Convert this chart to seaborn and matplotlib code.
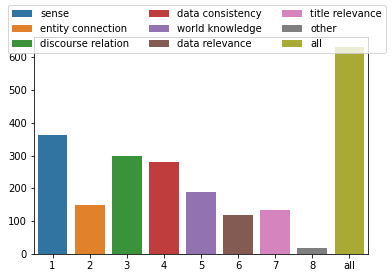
import matplotlib
matplotlib.use("Agg")
import matplotlib.pyplot as plt
import pandas as pd
import seaborn as sns

categories = ["sense", "entity connection", "discourse relation", "data consistency",
              "world knowledge", "data relevance", "title relevance", "other", "all"]
tick_labels = ["1", "2", "3", "4", "5", "6", "7", "8", "all"]
counts = [363, 150, 300, 280, 188, 120, 135, 18, 630]

df = pd.DataFrame({"label": tick_labels, "category": categories, "count": counts})

plt.rcParams["font.size"] = 10
fig = plt.figure(figsize=(392 / 72, 278 / 72), dpi=72)
ax = fig.add_axes([34 / 392, 1 - 254 / 278, 334 / 392, 217 / 278])

sns.barplot(data=df, x="label", y="count", hue="category", hue_order=categories,
            dodge=False, ax=ax)
ax.set_xlabel("")
ax.set_ylabel("")
ax.set_yticks([0, 100, 200, 300, 400, 500, 600])

ax.legend(ncol=3, loc="upper center", bbox_to_anchor=(197 / 392, 1 - 5 / 278),
          bbox_transform=fig.transFigure, fontsize=10, columnspacing=2.0,
          borderaxespad=0)

fig.savefig("out.png", dpi=72)
